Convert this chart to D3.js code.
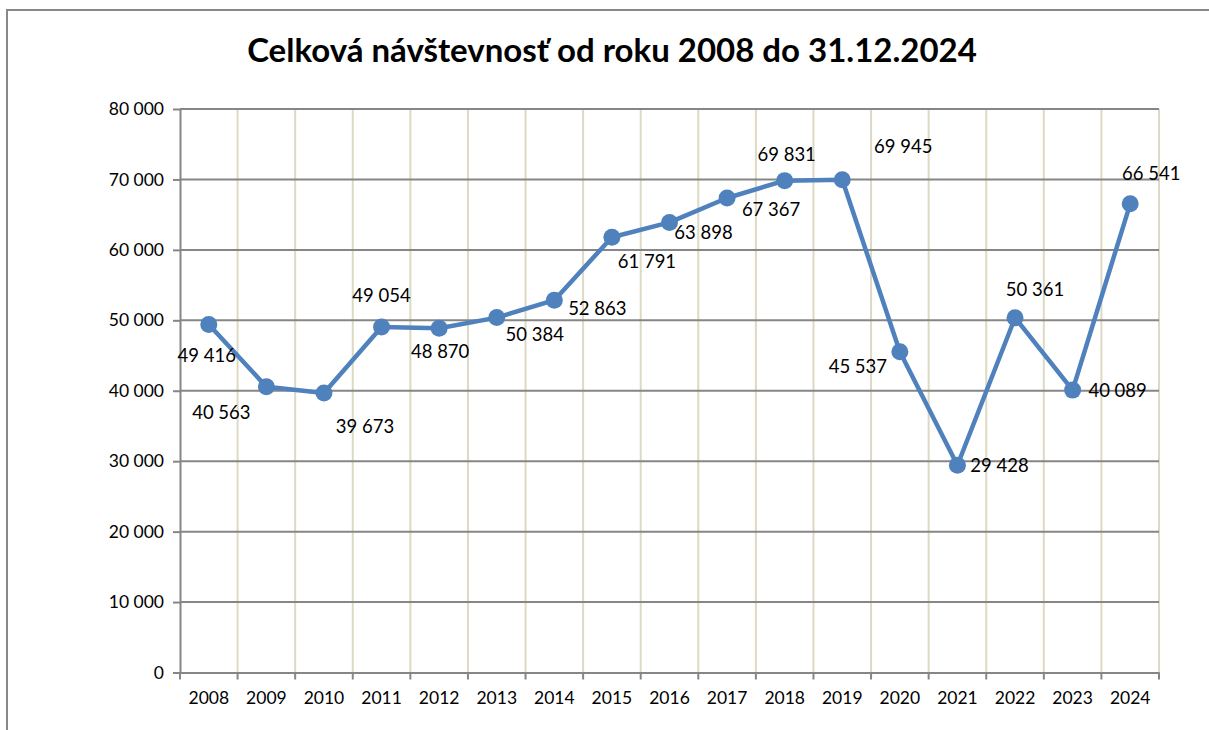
<!DOCTYPE html>
<html>
<head>
<meta charset="utf-8">
<script src="https://cdn.jsdelivr.net/npm/d3@7"></script>
<style>
  body { margin: 0; background: #fff; }
  svg { display: block; font-family: Lato, 'Open Sans', sans-serif; }
</style>
</head>
<body>
<div id="chart"></div>
<script>
// Data
var years = ['2008', '2009', '2010', '2011', '2012', '2013', '2014', '2015', '2016',
             '2017', '2018', '2019', '2020', '2021', '2022', '2023', '2024'];
var visitors = [49416, 40563, 39673, 49054, 48870, 50384, 52863, 61791, 63898,
                67367, 69831, 69945, 45537, 29428, 50361, 40089, 66541];
var yTicks = [0, 10000, 20000, 30000, 40000, 50000, 60000, 70000, 80000];
var title = 'Celková návštevnosť od roku 2008 do 31.12.2024';

// where each data label sits relative to its point (Excel placed them by hand)
var labelOffsets = [[-2, 31], [-45, 26], [41, 33], [0, -31], [1, 23], [38, 17], [43, 8],
                    [35, 24], [34, 10], [44, 12], [2, -26], [61, -33], [-42, 15],
                    [42, 0], [20, -28], [45, 0], [21, -30]];

var W = 1209, H = 730;
var plotLeft = 180, plotRight = 1159, plotTop = 109, plotBottom = 672.5;

var svg = d3.select('#chart')
            .append('svg')
            .attr('width', W)
            .attr('height', H);

// outer frame
svg.append('rect')
   .attr('x', 7).attr('y', 10)
   .attr('width', W).attr('height', H)
   .attr('fill', 'none')
   .attr('stroke', '#888')
   .attr('stroke-width', 2);

svg.append('text')
   .attr('x', 612)
   .attr('y', 62)
   .attr('text-anchor', 'middle')
   .attr('font-size', 33)
   .attr('font-weight', 'bold')
   .attr('fill', '#000')
   .text(title);

var x = d3.scaleBand()
          .domain(years)
          .range([plotLeft, plotRight]);

var y = d3.scaleLinear()
          .domain([0, 80000])
          .range([plotBottom, plotTop]);

var fmt = d3.formatLocale({decimal: ',', thousands: ' ', grouping: [3], currency: ['', '']}).format(',');

// vertical grid at category boundaries
var bounds = years.map(function(d) { return x(d) + x.bandwidth(); });
svg.append('g')
   .selectAll('line')
   .data(bounds)
   .enter()
   .append('line')
    .attr('x1', function(d) { return d; })
    .attr('x2', function(d) { return d; })
    .attr('y1', plotTop)
    .attr('y2', plotBottom)
    .attr('stroke', '#ddd9c3')
    .attr('stroke-width', 2);

// horizontal grid
svg.append('g')
   .selectAll('line')
   .data(yTicks.slice(1))
   .enter()
   .append('line')
    .attr('x1', plotLeft)
    .attr('x2', plotRight)
    .attr('y1', function(d) { return y(d); })
    .attr('y2', function(d) { return y(d); })
    .attr('stroke', '#868686')
    .attr('stroke-width', 2);

// y axis
var yAxis = d3.axisLeft(y)
              .tickValues(yTicks)
              .tickSizeInner(7)
              .tickSizeOuter(0)
              .tickPadding(9)
              .tickFormat(fmt);

var gy = svg.append('g')
            .attr('transform', 'translate(' + plotLeft + ',0)')
            .call(yAxis);
gy.selectAll('line, path').attr('stroke', '#868686').attr('stroke-width', 2);
gy.selectAll('text').attr('font-size', 17.5).attr('fill', '#000')
  .attr('font-family', 'Lato, sans-serif');

// x axis
var xAxis = d3.axisBottom(x)
              .tickSize(0)
              .tickPadding(19);

var gx = svg.append('g')
            .attr('transform', 'translate(0,' + plotBottom + ')')
            .call(xAxis);
gx.select('path').attr('stroke', '#868686').attr('stroke-width', 2);
gx.selectAll('text').attr('font-size', 17.5).attr('fill', '#000')
  .attr('font-family', 'Lato, sans-serif');

// x tick marks at boundaries
gx.selectAll('.bound')
  .data([plotLeft].concat(bounds))
  .enter()
  .append('line')
   .attr('class', 'bound')
   .attr('x1', function(d) { return d; })
   .attr('x2', function(d) { return d; })
   .attr('y1', 0)
   .attr('y2', 7)
   .attr('stroke', '#868686')
   .attr('stroke-width', 2);

// line
var cx = function(d, i) { return x(years[i]) + x.bandwidth() / 2; };

var line = d3.line()
             .x(cx)
             .y(function(d) { return y(d); });

svg.append('path')
   .datum(visitors)
   .attr('d', line)
   .attr('fill', 'none')
   .attr('stroke', '#4f81bd')
   .attr('stroke-width', 4.5)
   .attr('stroke-linejoin', 'round');

svg.append('g')
   .selectAll('circle')
   .data(visitors)
   .enter()
   .append('circle')
    .attr('cx', cx)
    .attr('cy', function(d) { return y(d); })
    .attr('r', 8.5)
    .attr('fill', '#4f81bd');

// data labels
svg.append('g')
   .selectAll('text')
   .data(visitors)
   .enter()
   .append('text')
    .attr('x', function(d, i) { return cx(d, i) + labelOffsets[i][0]; })
    .attr('y', function(d, i) { return y(d) + labelOffsets[i][1]; })
    .attr('dy', '0.35em')
    .attr('text-anchor', 'middle')
    .attr('font-size', 18.5)
    .attr('fill', '#000')
    .text(function(d) { return fmt(d); });
</script>
</body>
</html>
